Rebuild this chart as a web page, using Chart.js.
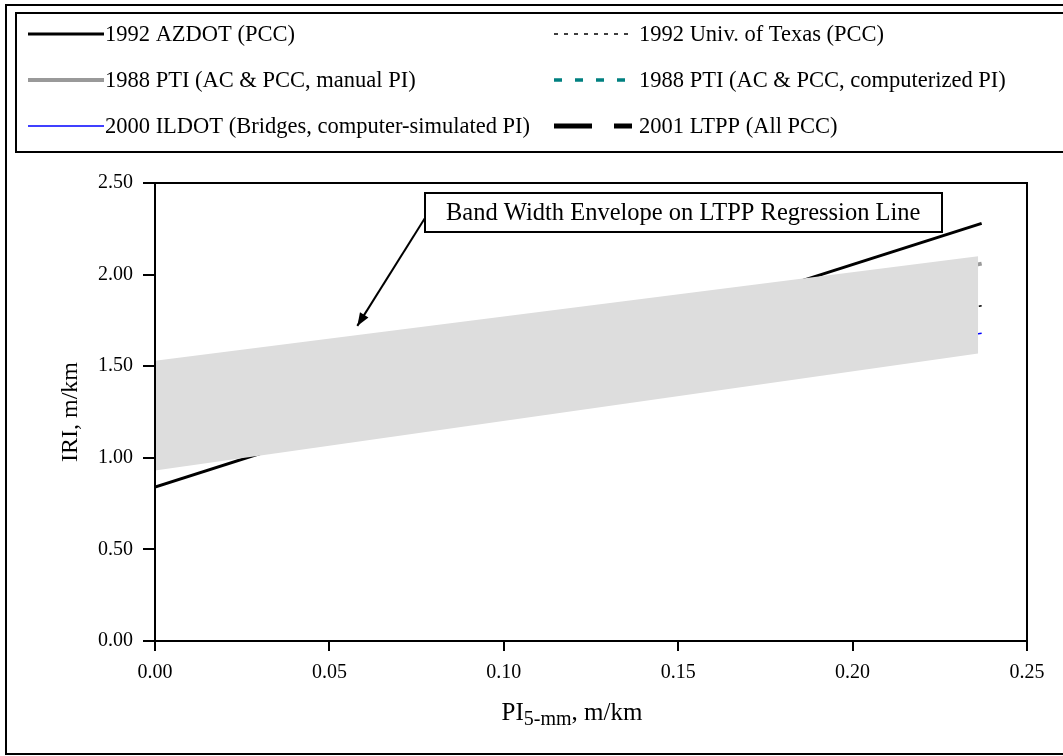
<!DOCTYPE html>
<html lang="en">
<head>
  <meta charset="UTF-8">
  <title>IRI vs PI5-mm</title>
  <script src="https://cdn.jsdelivr.net/npm/chart.js"></script>
  <style>
    html, body { margin: 0; padding: 0; background: #fff; }
    #wrap { width: 1063px; height: 756px; }
  </style>
</head>
<body>
  <div id="wrap"><canvas id="chart" width="1063" height="756"></canvas></div>

  <script>
    // x = PI (5-mm blanking band), m/km ; y = IRI, m/km
    const lineX = [0.0, 0.237];       // end points of the published regressions
    const hiddenX = [0.0, 0.234];     // lines that sit fully under the envelope
    const azdot = [0.84, 2.28];       // 1992 AZDOT (PCC)
    const texas = [1.05, 1.83];       // 1992 Univ. of Texas (PCC)
    const ptiManual = [1.15, 2.06];   // 1988 PTI manual PI
    const ptiComputer = [1.10, 1.75]; // 1988 PTI computerized PI
    const ildot = [1.02, 1.68];       // 2000 ILDOT
    const ltpp = [1.23, 1.84];        // 2001 LTPP
    const bandX = [0.0, 0.236];
    const bandUpper = [1.53, 2.10];
    const bandLower = [0.93, 1.57];
    const notePoint = [0.058, 1.72];  // arrow tip of the note
    const noteText = "Band Width Envelope on LTPP Regression Line";

    const serif = "'Liberation Serif', 'Times New Roman', serif";

    function pts(xs, ys) {
      return xs.map((x, i) => ({ x: x, y: ys[i] }));
    }

    const series = [
      { label: "1992 AZDOT (PCC)", data: pts(lineX, azdot), borderColor: "#000000", borderWidth: 3, borderDash: [] },
      { label: "1992 Univ. of Texas (PCC)", data: pts(lineX, texas), borderColor: "#000000", borderWidth: 1.5, borderDash: [4, 6], borderDashOffset: 4 },
      { label: "1988 PTI (AC & PCC, manual PI)", data: pts(lineX, ptiManual), borderColor: "#999999", borderWidth: 4, borderDash: [] },
      { label: "1988 PTI (AC & PCC, computerized PI)", data: pts(hiddenX, ptiComputer), borderColor: "#008080", borderWidth: 3.5, borderDash: [8, 13] },
      { label: "2000 ILDOT (Bridges, computer-simulated PI)", data: pts(lineX, ildot), borderColor: "#0000ff", borderWidth: 1.5, borderDash: [] },
      { label: "2001 LTPP (All PCC)", data: pts(hiddenX, ltpp), borderColor: "#000000", borderWidth: 5, borderDash: [38, 22] },
    ];

    const datasets = series.map((s) => Object.assign({}, s, {
      fill: false, pointRadius: 0, tension: 0, order: 1,
    }));
    // envelope drawn last so it covers the lines, like the original
    datasets.push({
      label: "band-upper", data: pts(bandX, bandUpper), borderWidth: 0, borderColor: "rgba(0,0,0,0)",
      backgroundColor: "#dddddd", fill: "+1", pointRadius: 0, order: 0,
    });
    datasets.push({
      label: "band-lower", data: pts(bandX, bandLower), borderWidth: 0, borderColor: "rgba(0,0,0,0)",
      fill: false, pointRadius: 0, order: 0,
    });

    const decor = {
      id: "decor",
      afterDatasetsDraw(chart) {
        const ctx = chart.ctx;
        const a = chart.chartArea;
        ctx.save();
        // plot frame
        ctx.strokeStyle = "#000";
        ctx.lineWidth = 2;
        ctx.strokeRect(a.left, a.top, a.right - a.left, a.bottom - a.top);

        // note box with arrow
        const bx = 425, by = 193, bw = 517, bh = 39;
        const tipX = chart.scales.x.getPixelForValue(notePoint[0]);
        const tipY = chart.scales.y.getPixelForValue(notePoint[1]);
        const sx = bx, sy = 218;
        ctx.lineWidth = 2;
        ctx.beginPath();
        ctx.moveTo(sx, sy);
        ctx.lineTo(tipX, tipY);
        ctx.stroke();
        const ang = Math.atan2(tipY - sy, tipX - sx);
        ctx.fillStyle = "#000";
        ctx.beginPath();
        ctx.moveTo(tipX, tipY);
        ctx.lineTo(tipX - 13 * Math.cos(ang) + 5 * Math.sin(ang), tipY - 13 * Math.sin(ang) - 5 * Math.cos(ang));
        ctx.lineTo(tipX - 13 * Math.cos(ang) - 5 * Math.sin(ang), tipY - 13 * Math.sin(ang) + 5 * Math.cos(ang));
        ctx.closePath();
        ctx.fill();

        ctx.fillStyle = "#fff";
        ctx.fillRect(bx, by, bw, bh);
        ctx.strokeRect(bx, by, bw, bh);
        ctx.fillStyle = "#000";
        ctx.font = "24.5px " + serif;
        ctx.textBaseline = "middle";
        ctx.textAlign = "left";
        ctx.fillText(noteText, 446, by + bh / 2 + 1);
        ctx.restore();
      },
      afterDraw(chart) {
        const ctx = chart.ctx;
        ctx.save();
        ctx.strokeStyle = "#000";
        ctx.lineWidth = 2;
        // outer frame and legend box (right side runs off the picture)
        ctx.strokeRect(6, 5, 1070, 749);
        ctx.strokeRect(16, 13, 1060, 139);

        // legend, two columns
        const cols = [{ x0: 28, x1: 104, tx: 105 }, { x0: 554, x1: 632, tx: 639 }];
        const rowY = [34, 80, 126];
        ctx.font = "22.5px " + serif;
        ctx.textBaseline = "middle";
        ctx.textAlign = "left";
        series.forEach((s, i) => {
          const c = cols[i % 2];
          const y = rowY[Math.floor(i / 2)];
          ctx.strokeStyle = s.borderColor;
          ctx.lineWidth = s.borderWidth;
          ctx.setLineDash(s.borderDash);
          ctx.beginPath();
          ctx.moveTo(c.x0, y);
          ctx.lineTo(c.x1, y);
          ctx.stroke();
          ctx.setLineDash([]);
          ctx.fillStyle = "#000";
          ctx.fillText(s.label, c.tx, y + 1);
        });

        // x axis title with subscript
        const big = "25px " + serif, small = "20px " + serif;
        ctx.font = big;
        const w1 = ctx.measureText("PI").width;
        const w3 = ctx.measureText(", m/km").width;
        ctx.font = small;
        const w2 = ctx.measureText("5-mm").width;
        let x = 572 - (w1 + w2 + w3) / 2;
        const base = 720;
        ctx.textBaseline = "alphabetic";
        ctx.font = big;
        ctx.fillText("PI", x, base);
        x += w1;
        ctx.font = small;
        ctx.fillText("5-mm", x, base + 5);
        x += w2;
        ctx.font = big;
        ctx.fillText(", m/km", x, base);
        ctx.restore();
      },
    };

    const tickFont = { family: serif, size: 20 };

    new Chart(document.getElementById("chart"), {
      type: "line",
      data: { datasets: datasets },
      options: {
        responsive: false,
        animation: false,
        layout: { padding: { top: 183, right: 36, left: 0, bottom: 0 } },
        plugins: { legend: { display: false }, tooltip: { enabled: false } },
        scales: {
          x: {
            type: "linear",
            min: 0,
            max: 0.25,
            afterFit: (s) => { s.height = 115; },
            ticks: {
              stepSize: 0.05,
              color: "#000",
              font: tickFont,
              padding: 10,
              maxRotation: 0,
              callback: (v) => Number(v).toFixed(2),
            },
            grid: { drawOnChartArea: false, drawTicks: true, tickLength: 10, color: "#000", lineWidth: 2 },
            border: { display: true, color: "#000", width: 2 },
          },
          y: {
            type: "linear",
            min: 0,
            max: 2.5,
            afterFit: (s) => { s.width = 155; },
            ticks: {
              stepSize: 0.5,
              color: "#000",
              font: tickFont,
              padding: 10,
              callback: (v) => Number(v).toFixed(2),
            },
            grid: { drawOnChartArea: false, drawTicks: true, tickLength: 12, color: "#000", lineWidth: 2 },
            border: { display: true, color: "#000", width: 2 },
            title: {
              display: true,
              text: "IRI, m/km",
              color: "#000",
              font: { family: serif, size: 24 },
              padding: { top: 56, bottom: 0 },
            },
          },
        },
      },
      plugins: [decor],
    });
  </script>
</body>
</html>
